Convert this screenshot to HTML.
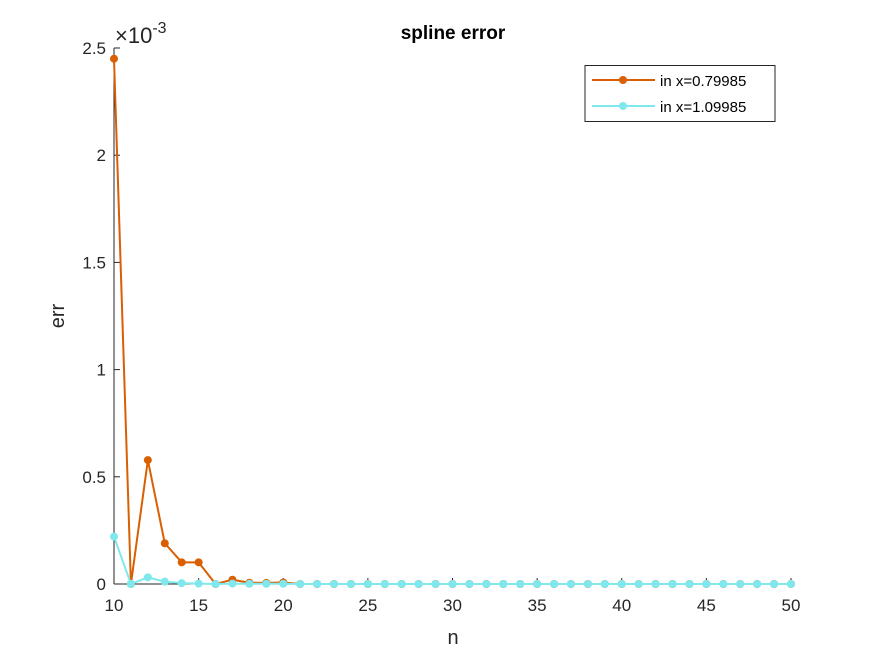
<!DOCTYPE html>
<html><head><meta charset="utf-8"><style>
html,body{margin:0;padding:0;background:#fff;}
svg{display:block;font-family:"Liberation Sans",Arial,sans-serif;}
</style></head><body>
<svg id="chart" width="875" height="656" viewBox="0 0 875 656">
<rect width="875" height="656" fill="#fff"/>
<g id="axes"></g>
<g id="series"></g>
<text x="453" y="39" text-anchor="middle" font-size="19" font-weight="bold" fill="#000">spline error</text>
<text x="453" y="644" text-anchor="middle" font-size="20" fill="#262626">n</text>
<text x="64" y="316" text-anchor="middle" font-size="20" fill="#262626" transform="rotate(-90 64 316)">err</text>
<text x="115" y="43" font-size="22" fill="#262626">×10<tspan dy="-10" font-size="16">-3</tspan></text>
<g>
<rect x="585" y="65.5" width="190" height="56" fill="#fff" stroke="#262626" stroke-width="1"/>
<g>
<line x1="592" y1="80" x2="655" y2="80" stroke="#D95F02" stroke-width="2"/>
<circle cx="623" cy="80" r="4" fill="#D95F02"/>
<text x="660" y="86" font-size="15" fill="#000">in x=0.79985</text>
</g>
<g>
<line x1="592" y1="106" x2="655" y2="106" stroke="#7FE8EC" stroke-width="2"/>
<circle cx="623" cy="106" r="4" fill="#7FE8EC"/>
<text x="660" y="112" font-size="15" fill="#000">in x=1.09985</text>
</g>
</g>
</svg>
<script>
const nValues = [];
for (let n = 10; n <= 50; n++) nValues.push(n);
const errOrange = [2.45,0,0.578,0.19,0.101,0.101,0,0.02,0.006,0.005,0.007,0,0,0,0,0,0,0,0,0,0,0,0,0,0,0,0,0,0,0,0,0,0,0,0,0,0,0,0,0,0];
const errCyan = [0.221,0,0.031,0.011,0.004,0.002,0,0.002,0.001,0.001,0.001,0,0,0,0,0,0,0,0,0,0,0,0,0,0,0,0,0,0,0,0,0,0,0,0,0,0,0,0,0,0];
const xTicks = [10,15,20,25,30,35,40,45,50];
const yTicks = [0,0.5,1,1.5,2,2.5];
const yTickLabels = ["0","0.5","1","1.5","2","2.5"];

const X0=114, X1=791, Y0=584, Y1=48;
const xs = v => X0 + (v-10)/(50-10)*(X1-X0);
const ys = v => Y0 - v/2.5*(Y0-Y1);
const NS="http://www.w3.org/2000/svg";
const axes=document.getElementById('axes'), series=document.getElementById('series');
function mk(tag, attrs, parent){const e=document.createElementNS(NS,tag);for(const k in attrs)e.setAttribute(k,attrs[k]);parent.appendChild(e);return e;}

const yAxis = mk('line',{x1:X0,y1:Y0,x2:X0,y2:Y1,stroke:'#262626','stroke-width':1},axes);


const xAxis = mk('line',{x1:X0,y1:Y0,x2:X1,y2:Y0,stroke:'#262626','stroke-width':1},axes);



xTicks.forEach(t=>{
  const x=xs(t);
  const tk=mk('line',{x1:x,y1:Y0,x2:x,y2:Y0-6,stroke:'#262626'},axes);
  
  
  const tx=mk('text',{x:x,y:Y0+27,'text-anchor':'middle','font-size':17,fill:'#262626'},axes);
  tx.textContent=t;
  
  
});
yTicks.forEach((t,i)=>{
  const y=ys(t);
  const tk=mk('line',{x1:X0,y1:y,x2:X0+6,y2:y,stroke:'#262626'},axes);
  
  
  const tx=mk('text',{x:X0-8,y:y+6,'text-anchor':'end','font-size':17,fill:'#262626'},axes);
  tx.textContent=yTickLabels[i];
  
  
});

function drawSeries(vals,color,name){
  const g=mk('g',{},series);
  
  
  const pts=vals.map((v,i)=>xs(nValues[i])+','+ys(v)).join(' ');
  mk('polyline',{points:pts,fill:'none',stroke:color,'stroke-width':2,'stroke-linejoin':'round'},g);
  vals.forEach((v,i)=>{
    const c=mk('circle',{cx:xs(nValues[i]),cy:ys(v),r:4,fill:color},g);
    
    
  });
}
drawSeries(errOrange,'#D95F02','series-x-0-79985');
drawSeries(errCyan,'#7FE8EC','series-x-1-09985');
</script>
</body></html>
